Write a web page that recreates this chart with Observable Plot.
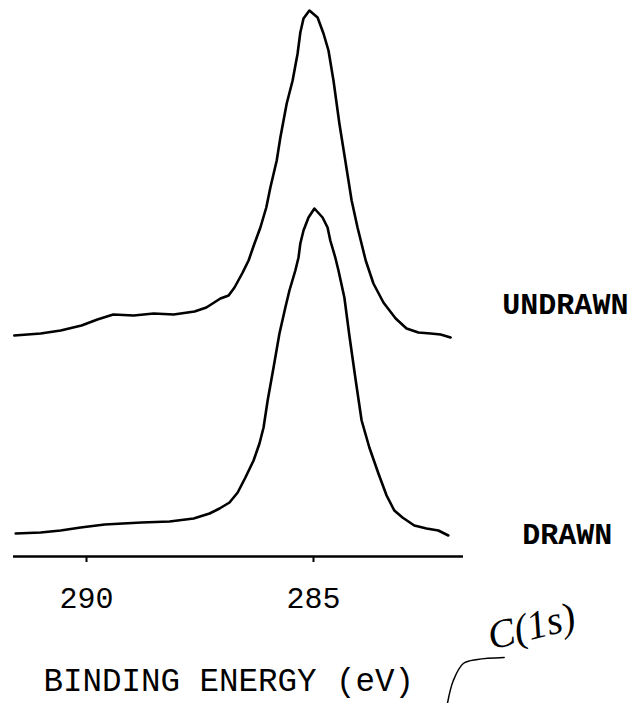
<!DOCTYPE html>
<html>
<head>
<meta charset="utf-8">
<script src="https://cdn.jsdelivr.net/npm/d3@7"></script>
<script src="https://cdn.jsdelivr.net/npm/@observablehq/plot@0.6"></script>
<style>
  html, body { margin: 0; padding: 0; background: #ffffff; }
  #chart svg { display: block; }
</style>
</head>
<body>
<div id="chart"></div>
<script>
// ---- Data (binding energy in eV, intensity in arbitrary offset units) ----
const seriesNames = ["UNDRAWN", "DRAWN"];

const undrawnEnergy = [291.59, 291.01, 290.57, 290.11, 289.76, 289.41, 288.96, 288.52, 288.08, 287.62,
  287.36, 287.05, 286.87, 286.74, 286.56, 286.43, 286.30, 286.17, 286.04, 285.95,
  285.81, 285.73, 285.59, 285.46, 285.35, 285.29, 285.22, 285.09, 284.91, 284.78,
  284.67, 284.56, 284.43, 284.30, 284.16, 284.03, 283.85, 283.68, 283.46, 283.19,
  282.95, 282.69, 282.42, 282.20, 281.98];
const undrawnIntensity = [221, 223, 226, 231, 237, 242, 241, 243, 242, 245,
  249, 258, 261, 269, 284, 296, 313, 329, 349, 369,
  396, 419, 453, 476, 503, 524, 538, 546, 539, 523,
  506, 476, 433, 396, 356, 329, 296, 273, 254, 238,
  228, 224, 223, 222, 219];

const drawnEnergy = [291.56, 291.01, 290.57, 290.13, 289.60, 288.79, 288.17, 287.64, 287.29, 287.07,
  286.85, 286.67, 286.50, 286.32, 286.19, 286.10, 286.01, 285.88, 285.75, 285.62,
  285.53, 285.40, 285.33, 285.29, 285.22, 285.11, 284.98, 284.80, 284.69, 284.63,
  284.52, 284.45, 284.32, 284.21, 284.07, 283.94, 283.77, 283.57, 283.39, 283.22,
  283.04, 282.78, 282.51, 282.25, 282.03];
const drawnIntensity = [23, 24, 26, 29, 32, 34, 35, 38, 43, 48,
  54, 64, 79, 96, 113, 129, 156, 189, 223, 249,
  266, 286, 299, 313, 326, 339, 348, 339, 329, 316,
  299, 286, 259, 221, 176, 136, 109, 83, 61, 46,
  39, 31, 28, 26, 21];

// series label anchors
const labelEnergy = [280.84, 280.40];
const labelIntensity = [243, 13];

// x axis
const tickValues = [290, 285];
const tickLabels = ["290", "285"];
const axisTitle = "BINDING ENERGY (eV)";

// handwritten annotation
const noteText = "C(1s)";
const noteEnergy = [280.20];
const noteIntensity = [-70];
const hookEnergy = [282.05, 281.92, 281.70, 281.39, 280.80];
const hookIntensity = [-147, -124, -107, -103, -101];

// ---- Build tables ----
const spectra = [
  ...undrawnEnergy.map((e, i) => ({series: seriesNames[0], energy: e, intensity: undrawnIntensity[i]})),
  ...drawnEnergy.map((e, i) => ({series: seriesNames[1], energy: e, intensity: drawnIntensity[i]}))
];
const labels = seriesNames.map((s, i) => ({text: s, energy: labelEnergy[i], intensity: labelIntensity[i]}));
const hook = hookEnergy.map((e, i) => ({energy: e, intensity: hookIntensity[i]}));
const note = [{text: noteText, energy: noteEnergy[0], intensity: noteIntensity[0]}];

const mono = "'Liberation Mono', 'DejaVu Sans Mono', monospace";

const chart = Plot.plot({
  width: 636,
  height: 703,
  marginLeft: 13,
  marginRight: 173,
  marginTop: 0,
  marginBottom: 147,
  style: {background: "#ffffff", color: "#000000", fontFamily: mono},
  x: {domain: [291.608, 281.696], axis: null},
  y: {domain: [0, 556], axis: null},
  marks: [
    Plot.ruleY([0], {stroke: "#000", strokeWidth: 2.6}),
    Plot.axisX({
      ticks: tickValues,
      tickFormat: (d) => tickLabels[tickValues.indexOf(d)],
      tickSize: 6,
      tickPadding: 24,
      strokeWidth: 2,
      fontSize: 30,
      fontFamily: mono,
      fill: "#000",
      label: null
    }),
    Plot.line(spectra, {
      x: "energy", y: "intensity", z: "series",
      stroke: "#000", strokeWidth: 2.6, strokeLinejoin: "round", strokeLinecap: "round"
    }),
    Plot.text(labels, {
      x: "energy", y: "intensity", text: "text",
      textAnchor: "start", lineAnchor: "bottom",
      fontSize: 30, fontWeight: "bold", fontFamily: mono, fill: "#000"
    }),
    Plot.text([axisTitle], {
      frameAnchor: "bottom-left", dx: 30, dy: 134,
      textAnchor: "start", lineAnchor: "bottom",
      fontSize: 32.5, fontFamily: mono, fill: "#000"
    }),
    Plot.line(hook, {
      x: "energy", y: "intensity", curve: "catmull-rom",
      stroke: "#000", strokeWidth: 1.5
    }),
    Plot.text(note, {
      x: "energy", y: "intensity", text: "text",
      textAnchor: "middle", lineAnchor: "middle", rotate: -14,
      fontSize: 40, fontStyle: "italic", fontFamily: "'Liberation Serif', 'DejaVu Serif', serif",
      fill: "#000"
    })
  ]
});

document.getElementById("chart").appendChild(chart);
</script>
</body>
</html>
